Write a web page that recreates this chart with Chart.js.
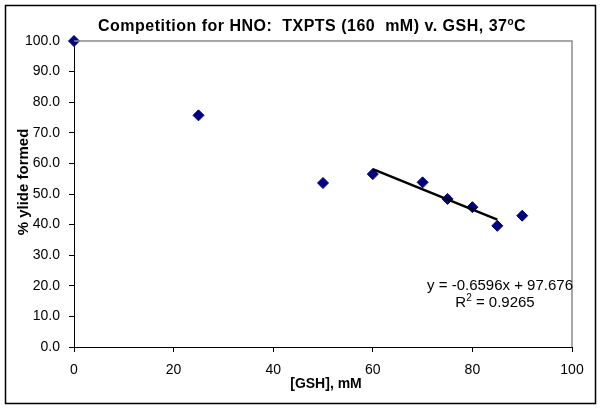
<!DOCTYPE html>
<html>
<head>
<meta charset="utf-8">
<script src="https://cdn.jsdelivr.net/npm/chart.js@4"></script>
<style>
  html, body { margin: 0; padding: 0; background: #fff; }
  #wrap { width: 601px; height: 410px; }
</style>
</head>
<body>
<div id="wrap"><canvas id="chart" width="601" height="410"></canvas></div>
<script>
// --- datos ---
const gshConc = [0, 25, 50, 60, 70, 75, 80, 85, 90];
const ylidePct = [100.0, 75.7, 53.6, 56.5, 53.8, 48.4, 45.7, 39.6, 42.9];
const trendRange = [60, 85];
const trendSlope = -0.6596;
const trendIntercept = 97.676;
const trendR2 = 0.9265;
const xTicks = [0, 20, 40, 60, 80, 100];
const yTicks = [0, 10, 20, 30, 40, 50, 60, 70, 80, 90, 100];

const FONT = '"Liberation Sans", Arial, sans-serif';

const scatterPts = gshConc.map((x, i) => ({ x, y: ylidePct[i] }));
const trendPts = trendRange.map(x => ({ x, y: trendSlope * x + trendIntercept }));

// --- textos y marcos dibujados a mano ---
const decorPlugin = {
    id: 'decor',
    beforeDraw(chart) {
        const ctx = chart.ctx;
        ctx.save();
        ctx.fillStyle = '#fff';
        ctx.fillRect(0, 0, chart.width, chart.height);
        ctx.restore();
    },
    afterDraw(chart) {
        const ctx = chart.ctx;
        const a = chart.chartArea;
        ctx.save();
        // marco gris del área de trazado (arriba y derecha)
        ctx.strokeStyle = '#8c8c8c';
        ctx.lineWidth = 1.5;
        ctx.beginPath();
        ctx.moveTo(a.left, a.top);
        ctx.lineTo(a.right, a.top);
        ctx.lineTo(a.right, a.bottom);
        ctx.stroke();
        // borde exterior
        ctx.strokeStyle = '#000';
        ctx.lineWidth = 1.5;
        ctx.strokeRect(5.5, 5.5, 590, 398);

        // título con superíndice
        ctx.fillStyle = '#000';
        ctx.textBaseline = 'alphabetic';
        ctx.save();
        ctx.letterSpacing = '0.5px';
        const t1 = 'Competition for HNO:  TXPTS (160  mM) v. GSH, 37';
        ctx.font = 'bold 16px ' + FONT;
        const w1 = ctx.measureText(t1).width;
        ctx.font = 'bold 10px ' + FONT;
        const w2 = ctx.measureText('o').width;
        ctx.font = 'bold 16px ' + FONT;
        const w3 = ctx.measureText('C').width;
        let tx = 312 - (w1 + w2 + w3) / 2;
        const ty = 31;
        ctx.textAlign = 'left';
        ctx.fillText(t1, tx, ty);
        ctx.font = 'bold 10px ' + FONT;
        ctx.fillText('o', tx + w1, ty - 6);
        ctx.font = 'bold 16px ' + FONT;
        ctx.fillText('C', tx + w1 + w2, ty);
        ctx.restore();

        // título eje y
        ctx.save();
        ctx.translate(28, 182);
        ctx.rotate(-Math.PI / 2);
        ctx.textAlign = 'center';
        ctx.font = 'bold 15px ' + FONT;
        ctx.fillText('% ylide formed', 0, 0);
        ctx.restore();

        // título eje x
        ctx.textAlign = 'center';
        ctx.font = 'bold 14px ' + FONT;
        ctx.fillText('[GSH], mM', 326, 388);

        // ecuación de la tendencia
        ctx.font = '15px ' + FONT;
        ctx.textAlign = 'right';
        ctx.fillText('y = ' + trendSlope + 'x + ' + trendIntercept.toFixed(3), 573, 290);
        const r1 = 'R';
        const r2 = ' = ' + trendR2;
        const wr1 = ctx.measureText(r1).width;
        const wr2 = ctx.measureText(r2).width;
        ctx.font = '10px ' + FONT;
        const wsup = ctx.measureText('2').width;
        let rx = 495 - (wr1 + wsup + wr2) / 2;
        ctx.textAlign = 'left';
        ctx.font = '15px ' + FONT;
        ctx.fillText(r1, rx, 307);
        ctx.font = '10px ' + FONT;
        ctx.fillText('2', rx + wr1, 301);
        ctx.font = '15px ' + FONT;
        ctx.fillText(r2, rx + wr1 + wsup, 307);
        ctx.restore();
    }
};

new Chart(document.getElementById('chart').getContext('2d'), {
    type: 'scatter',
    data: {
        datasets: [{
            label: 'datos',
            data: scatterPts,
            pointStyle: 'rectRot',
            pointRadius: 5.5,
            pointHoverRadius: 5.5,
            backgroundColor: '#000080',
            borderColor: '#000080',
            borderWidth: 1,
            clip: false,
            order: 1
        }, {
            label: 'tendencia',
            type: 'line',
            data: trendPts,
            borderColor: '#000',
            borderWidth: 2.5,
            pointRadius: 0,
            fill: false,
            order: 0
        }]
    },
    options: {
        responsive: false,
        animation: false,
        events: [],
        layout: { padding: { left: 0, top: 41, right: 29, bottom: 0 } },
        plugins: {
            legend: { display: false },
            title: { display: false },
            tooltip: { enabled: false }
        },
        scales: {
            x: {
                type: 'linear',
                min: 0,
                max: 100,
                afterBuildTicks: s => { s.ticks = xTicks.map(v => ({ value: v })); },
                afterFit: s => { s.height = 63; },
                grid: { drawOnChartArea: false, drawTicks: true, tickLength: 5, color: '#000' },
                border: { display: true, color: '#000', width: 1 },
                ticks: {
                    color: '#000',
                    padding: 10,
                    maxRotation: 0,
                    font: { family: FONT, size: 14 }
                }
            },
            y: {
                type: 'linear',
                min: 0,
                max: 100,
                afterBuildTicks: s => { s.ticks = yTicks.map(v => ({ value: v })); },
                afterFit: s => { s.width = 74; },
                grid: { drawOnChartArea: false, drawTicks: true, tickLength: 5, color: '#000' },
                border: { display: true, color: '#000', width: 1 },
                ticks: {
                    color: '#000',
                    padding: 9,
                    font: { family: FONT, size: 14 },
                    callback: v => Number(v).toFixed(1)
                }
            }
        }
    },
    plugins: [decorPlugin]
});
</script>
</body>
</html>
